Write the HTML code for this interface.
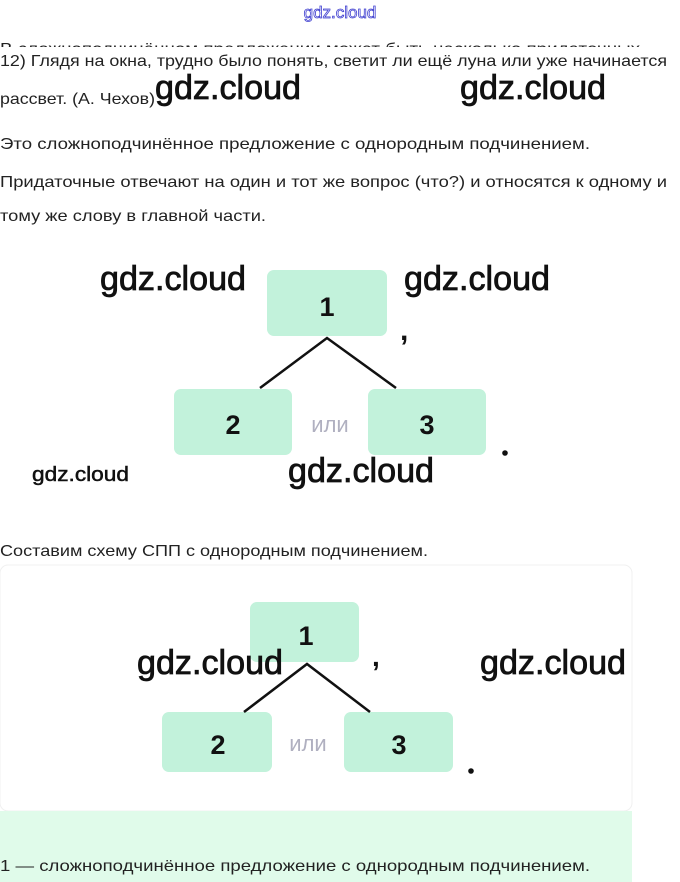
<!DOCTYPE html>
<html><head><meta charset="utf-8"><style>
html,body{margin:0;padding:0;background:#fff;width:680px;height:882px;overflow:hidden}
svg{display:block}
.t{font-family:"Liberation Sans",sans-serif;font-size:16px;fill:#222}
.w{font-family:"Liberation Sans",sans-serif;font-size:34px;fill:#111;stroke:#111;stroke-width:0.8}
.n{font-family:"Liberation Sans",sans-serif;font-size:27px;font-weight:bold;fill:#111;text-anchor:middle}
.o{font-family:"Liberation Sans",sans-serif;font-size:22px;fill:#b0b0c0;text-anchor:middle}
</style></head><body>
<svg width="680" height="882" viewBox="0 0 680 882" xmlns="http://www.w3.org/2000/svg">
<defs><clipPath id="c"><rect x="0" y="30" width="680" height="17"/></clipPath></defs>
<text x="340" y="18" font-family="Liberation Sans,sans-serif" font-size="17" fill="#fff" stroke="#4040d0" stroke-width="0.8" text-anchor="middle">gdz.cloud</text>
<text class="t" x="0" y="54" textLength="640" lengthAdjust="spacingAndGlyphs" clip-path="url(#c)">В сложноподчинённом предложении может быть несколько придаточных</text>
<text class="t" x="0" y="66" textLength="667" lengthAdjust="spacingAndGlyphs">12) Глядя на окна, трудно было понять, светит ли ещё луна или уже начинается</text>
<text class="t" x="0" y="104" textLength="155" lengthAdjust="spacingAndGlyphs">рассвет. (А. Чехов)</text>
<text class="t" x="0" y="149" textLength="590" lengthAdjust="spacingAndGlyphs">Это сложноподчинённое предложение с однородным подчинением.</text>
<text class="t" x="0" y="187" textLength="667" lengthAdjust="spacingAndGlyphs">Придаточные отвечают на один и тот же вопрос (что?) и относятся к одному и</text>
<text class="t" x="0" y="221" textLength="266" lengthAdjust="spacingAndGlyphs">тому же слову в главной части.</text>

<rect x="267" y="270" width="120" height="66" rx="7" fill="#c2f2db"/>
<rect x="174" y="389" width="118" height="66" rx="7" fill="#c2f2db"/>
<rect x="368" y="389" width="118" height="66" rx="7" fill="#c2f2db"/>
<path d="M260 388 L327 338 L396 388" fill="none" stroke="#111" stroke-width="2.5"/>
<text class="n" x="327" y="316">1</text>
<text class="n" x="233" y="434">2</text>
<text class="n" x="427" y="434">3</text>
<text class="o" x="330" y="432">или</text>
<text x="400" y="340" font-family="Liberation Sans,sans-serif" font-size="30" font-weight="bold" fill="#111">,</text>
<circle cx="505" cy="453" r="2.8" fill="#111"/>

<text class="t" x="0" y="556" textLength="428" lengthAdjust="spacingAndGlyphs">Составим схему СПП с однородным подчинением.</text>

<rect x="0" y="565" width="632" height="246" rx="8" fill="#fff" stroke="#f0f0f0"/>
<rect x="0" y="811" width="632" height="71" fill="#e0fbea"/>
<rect x="250" y="602" width="109" height="60" rx="7" fill="#c2f2db"/>
<rect x="162" y="712" width="110" height="60" rx="7" fill="#c2f2db"/>
<rect x="344" y="712" width="109" height="60" rx="7" fill="#c2f2db"/>
<path d="M244 712 L307 664 L370 712" fill="none" stroke="#111" stroke-width="2.5"/>
<text class="n" x="306" y="645">1</text>
<text class="n" x="218" y="754">2</text>
<text class="n" x="399" y="754">3</text>
<text class="o" x="308" y="751">или</text>
<text x="372" y="666" font-family="Liberation Sans,sans-serif" font-size="28" font-weight="bold" fill="#111">,</text>
<circle cx="471" cy="771" r="2.8" fill="#111"/>
<text class="t" x="0" y="871" textLength="590" lengthAdjust="spacingAndGlyphs">1 — сложноподчинённое предложение с однородным подчинением.</text>

<text class="w" x="155" y="99" textLength="146" lengthAdjust="spacingAndGlyphs">gdz.cloud</text>
<text class="w" x="460" y="99" textLength="146" lengthAdjust="spacingAndGlyphs">gdz.cloud</text>
<text class="w" x="100" y="290" textLength="146" lengthAdjust="spacingAndGlyphs">gdz.cloud</text>
<text class="w" x="404" y="290" textLength="146" lengthAdjust="spacingAndGlyphs">gdz.cloud</text>
<text x="32" y="481" font-family="Liberation Sans,sans-serif" font-size="20" fill="#111" stroke="#111" stroke-width="0.5" textLength="97" lengthAdjust="spacingAndGlyphs">gdz.cloud</text>
<text class="w" x="288" y="482" textLength="146" lengthAdjust="spacingAndGlyphs">gdz.cloud</text>
<text class="w" x="137" y="674" textLength="146" lengthAdjust="spacingAndGlyphs">gdz.cloud</text>
<text class="w" x="480" y="674" textLength="146" lengthAdjust="spacingAndGlyphs">gdz.cloud</text>
</svg>
</body></html>
